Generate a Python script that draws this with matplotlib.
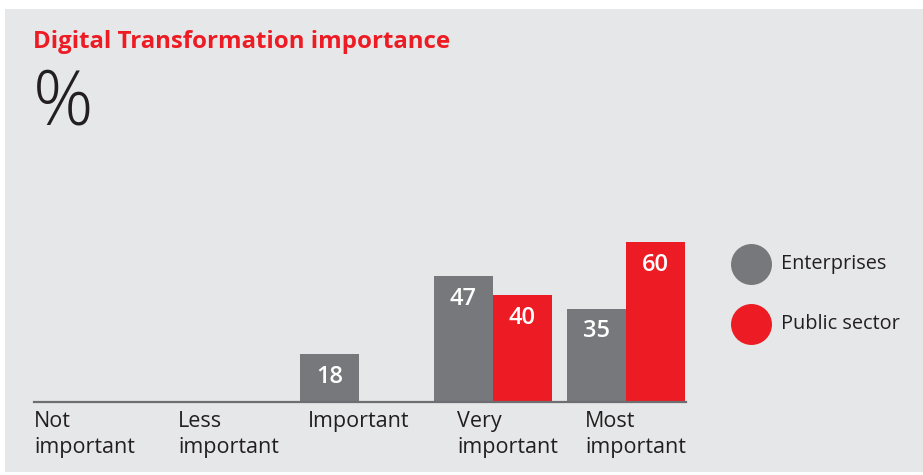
import matplotlib
matplotlib.use("Agg")
import matplotlib.pyplot as plt
from matplotlib.patches import Rectangle
from matplotlib.lines import Line2D

plt.rcParams['font.family'] = ['Open Sans', 'DejaVu Sans']

categories = ["Not\nimportant", "Less\nimportant", "Important", "Very\nimportant", "Most\nimportant"]
enterprises = [0, 0, 18, 47, 35]
public_sector = [0, 0, 0, 40, 60]
series_names = ["Enterprises", "Public sector"]
title = "Digital Transformation importance"
unit = "%"

GRAY = "#77787b"
RED = "#ed1c24"
BG = "#e6e7e8"
TXT = "#231f20"
label_offsets = [-0.434, -0.356, -0.382, -0.266, -0.307]

W, H = 923, 475
fig = plt.figure(figsize=(W / 100, H / 100), dpi=100, facecolor="white")
fig.add_artist(Rectangle((5 / W, 3 / H), 1 - 5 / W, (466 - 3) / H,
                         transform=fig.transFigure, facecolor=BG, edgecolor="none", zorder=-10))

ax = fig.add_axes([34 / W, 73 / H, 652 / W, 187 / H])
ax.set_facecolor("none")
ax.set_xlim(-0.434, 4.449)
ax.set_ylim(0, 70)
bw = 0.442
x = list(range(len(categories)))
b1 = ax.bar([i - bw / 2 for i in x], enterprises, width=bw, color=GRAY, zorder=2)
b2 = ax.bar([i + bw / 2 for i in x], public_sector, width=bw, color=RED, zorder=2)
for bars, vals in ((b1, enterprises), (b2, public_sector)):
    for r, v in zip(bars, vals):
        if v > 0:
            ax.annotate(f"{v}", (r.get_x() + r.get_width() / 2, v), xytext=(0, -16.5),
                        textcoords="offset points", ha="center", va="center",
                        color="white", fontsize=17, fontweight="semibold")
for s in ("top", "right", "left"):
    ax.spines[s].set_visible(False)
ax.spines["bottom"].set_color("#6d6e71")
ax.spines["bottom"].set_linewidth(1.6)
ax.set_xticks([])
ax.set_yticks([])
for i, (c, off) in enumerate(zip(categories, label_offsets)):
    ax.annotate(c, (i + off, 0), xytext=(0, -6.5), textcoords="offset points",
                ha="left", va="top", fontsize=15.5, color=TXT, linespacing=1.3,
                annotation_clip=False)

fig.text(33 / W, 1 - 48 / H, title, color=RED, fontsize=17.3, fontweight="bold",
         ha="left", va="baseline")
fig.text(33 / W, 1 - 125 / H, unit, color=TXT, fontsize=54, fontweight="light",
         ha="left", va="baseline")

for (name, col, yc) in ((series_names[0], GRAY, 264), (series_names[1], RED, 324)):
    fig.add_artist(Line2D([751 / W], [1 - yc / H], marker="o", markersize=29.5,
                          color=col, markeredgewidth=0, transform=fig.transFigure))
    fig.text(781 / W, 1 - yc / H, name, color=TXT, fontsize=14.3, ha="left", va="center")

fig.savefig("out.png", dpi=100, facecolor="white")
